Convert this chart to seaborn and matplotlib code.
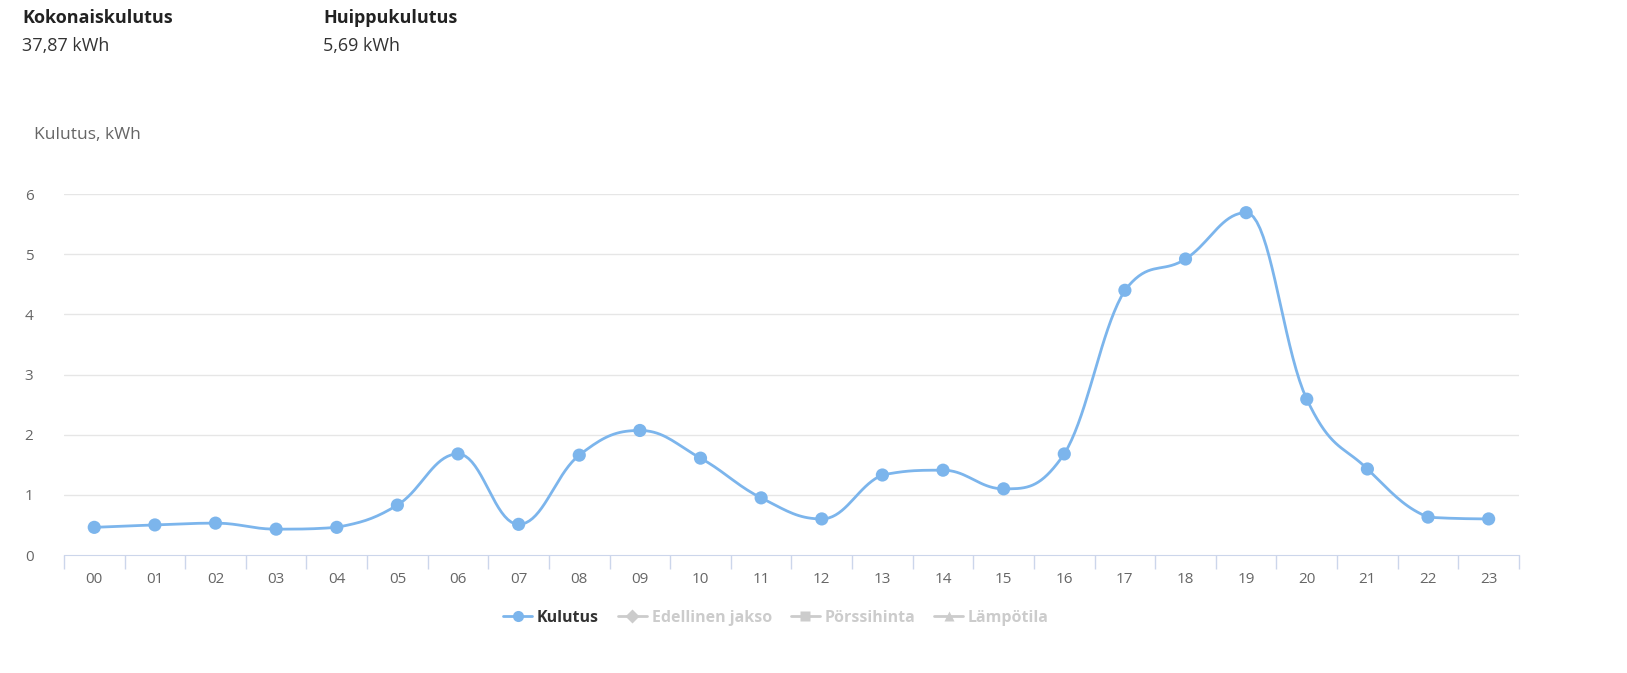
import numpy as np
import matplotlib.pyplot as plt
import seaborn as sns
from matplotlib.lines import Line2D

# ============== DATA ==============
HOURS = [f"{h:02d}" for h in range(24)]
KULUTUS = [0.46, 0.50, 0.53, 0.43, 0.46, 0.83, 1.68, 0.51, 1.66, 2.07, 1.61, 0.95,
           0.60, 1.33, 1.41, 1.10, 1.68, 4.40, 4.92, 5.69, 2.59, 1.43, 0.63, 0.60]
Y_TICKS = [0, 1, 2, 3, 4, 5, 6]
TOTAL_LABEL = "37,87 kWh"
PEAK_LABEL = "5,69 kWh"
LEGEND_NAMES = ["Kulutus", "Edellinen jakso", "Pörssihinta", "Lämpötila"]
# ==================================

BLUE = "#7cb5ec"
GREY = "#cccccc"


def spline(x, y, n=20, smooth=1.5):
    """Highcharts-tyylinen spline piirtoa varten"""
    xs, ys = [], []
    for i in range(len(x) - 1):
        x0, y0, x1, y1 = x[i], y[i], x[i + 1], y[i + 1]
        lo, hi = min(y0, y1), max(y0, y1)
        if i > 0:
            lx, ly = x[i - 1], y[i - 1]
            c1x = (smooth * x0 + x1) / (smooth + 1)
            c1y = y0 + (y1 - ly) / (x1 - lx) * (c1x - x0)
            if (y0 - ly) * (y1 - y0) <= 0:
                c1y = y0  # paikallinen ääriarvo: ei ylitystä
            c1y = min(max(c1y, lo), hi)
        else:
            c1x, c1y = x0, y0
        if i < len(x) - 2:
            nx, ny = x[i + 2], y[i + 2]
            c2x = (smooth * x1 + x0) / (smooth + 1)
            c2y = y1 + (ny - y0) / (nx - x0) * (c2x - x1)
            if (y1 - y0) * (ny - y1) <= 0:
                c2y = y1
            c2y = min(max(c2y, lo), hi)
        else:
            c2x, c2y = x1, y1
        t = np.linspace(0, 1, n)
        bx = (1 - t) ** 3 * x0 + 3 * (1 - t) ** 2 * t * c1x + 3 * (1 - t) * t ** 2 * c2x + t ** 3 * x1
        by = (1 - t) ** 3 * y0 + 3 * (1 - t) ** 2 * t * c1y + 3 * (1 - t) * t ** 2 * c2y + t ** 3 * y1
        xs.extend(bx)
        ys.extend(by)
    return np.array(xs), np.array(ys)


sns.set_style("white")
plt.rcParams['font.family'] = ['Open Sans', 'DejaVu Sans']

fig = plt.figure(figsize=(16.27, 6.73), dpi=100)
ax = fig.add_axes([0.0393, 0.1753, 0.8943, 0.5364])

xpos = np.arange(len(HOURS))
sx, sy = spline(xpos, KULUTUS)
ax.plot(sx, sy, color=BLUE, lw=2, zorder=3)
sns.scatterplot(x=xpos, y=KULUTUS, color=BLUE, s=90, edgecolor="none", ax=ax, zorder=4)

ax.set_xlim(-0.5, 23.5)
ax.set_ylim(0, 6)
ax.set_yticks(Y_TICKS)
ax.set_yticklabels([str(v) for v in Y_TICKS], fontsize=11, color="#666666")
ax.set_xticks(xpos)
ax.set_xticklabels(HOURS, fontsize=11, color="#666666")
ax.set_xticks(np.arange(-0.5, 24, 1), minor=True)
ax.tick_params(axis="x", which="major", length=0, pad=12, bottom=True)
ax.tick_params(axis="x", which="minor", length=10, color="#ccd6eb", width=1, bottom=True)
ax.tick_params(axis="y", length=0, pad=22)
for v in Y_TICKS[1:]:
    ax.axhline(v, color="#e6e6e6", lw=1, zorder=1)
for s in ["top", "right", "left"]:
    ax.spines[s].set_visible(False)
ax.spines["bottom"].set_color("#ccd6eb")
ax.set_xlabel("")

fig.text(22 / 1627, 1 - 18 / 673, "Kokonaiskulutus", fontsize=13, fontweight="bold", color="#222222", va="center")
fig.text(22 / 1627, 1 - 46 / 673, TOTAL_LABEL, fontsize=13, color="#333333", va="center")
fig.text(323 / 1627, 1 - 18 / 673, "Huippukulutus", fontsize=13, fontweight="bold", color="#222222", va="center")
fig.text(323 / 1627, 1 - 46 / 673, PEAK_LABEL, fontsize=13, color="#333333", va="center")
fig.text(34 / 1627, 1 - 135 / 673, "Kulutus, kWh", fontsize=12.5, color="#666666", va="center")

markers = ["o", "D", "s", "^"]
handles = [Line2D([0], [0], color=BLUE if i == 0 else GREY, lw=2, marker=m, markersize=8 if i == 0 else 7,
                  markeredgecolor="none") for i, m in enumerate(markers)]
leg = fig.legend(handles, LEGEND_NAMES, loc="center", bbox_to_anchor=(0.477, 1 - 618 / 673), ncol=4,
                 frameon=False, handlelength=1.8, columnspacing=1.2, handletextpad=0.3,
                 prop={"size": 11.5, "weight": "bold"})
for i, t in enumerate(leg.get_texts()):
    t.set_color("#333333" if i == 0 else GREY)

fig.savefig("out.png", dpi=100)
